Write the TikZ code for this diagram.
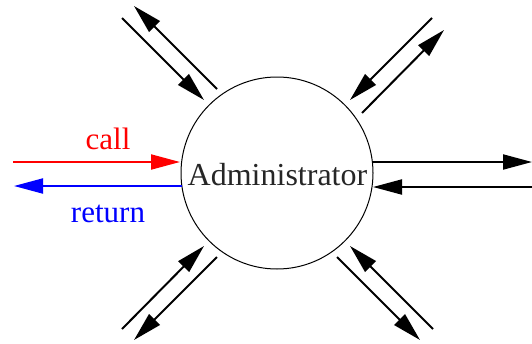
\documentclass[tikz,border=0pt]{standalone}
\usepackage{fontspec}
\setmainfont{Liberation Serif}
\usetikzlibrary{arrows.meta}
\tikzset{
  msg/.style={line width=2pt, -{Triangle[length=29pt, width=15pt]}},
  lbl/.style={anchor=base, inner sep=0pt, font=\fontsize{31}{36}\selectfont}
}

\begin{document}
\begin{tikzpicture}[x=1pt, y=-1pt]
  \useasboundingbox (0,0) rectangle (532,343);
  \node[circle, draw, line width=1pt, minimum size=192pt, inner sep=0pt] (admin) at (277,173) {};
  \node[lbl, font=\fontsize{32}{36}\selectfont, text=black!85] (name) at (277.5,185) {Administrator};
  % left: call / return
  \coordinate (callin) at (13,162);
  \coordinate (callout) at (180,162);
  \coordinate (retin) at (182,186);
  \coordinate (retout) at (14,186);
  \draw[msg, red] (callin) -- (callout);
  \draw[msg, blue] (retin) -- (retout);
  \node[lbl, red] (calltxt) at (108,149) {call};
  \node[lbl, blue] (rettxt) at (108,222) {return};
  % right
  \coordinate (r1a) at (373,162);
  \coordinate (r1b) at (532,162);
  \coordinate (r2a) at (532,187);
  \coordinate (r2b) at (373,187);
  \draw[msg] (r1a) -- (r1b);
  \draw[msg] (r2a) -- (r2b);
  % top left
  \coordinate (tl1a) at (122,18);
  \coordinate (tl1b) at (204,100);
  \coordinate (tl2a) at (217,89);
  \coordinate (tl2b) at (134,6);
  \draw[msg] (tl1a) -- (tl1b);
  \draw[msg] (tl2a) -- (tl2b);
  % top right
  \coordinate (tr1a) at (432,18);
  \coordinate (tr1b) at (350,100);
  \coordinate (tr2a) at (362,113);
  \coordinate (tr2b) at (444,30);
  \draw[msg] (tr1a) -- (tr1b);
  \draw[msg] (tr2a) -- (tr2b);
  % bottom left
  \coordinate (bl1a) at (122,329);
  \coordinate (bl1b) at (204,246);
  \coordinate (bl2a) at (217,257);
  \coordinate (bl2b) at (134,340);
  \draw[msg] (bl1a) -- (bl1b);
  \draw[msg] (bl2a) -- (bl2b);
  % bottom right
  \coordinate (br1a) at (337,257);
  \coordinate (br1b) at (420,340);
  \coordinate (br2a) at (433,329);
  \coordinate (br2b) at (350,246);
  \draw[msg] (br1a) -- (br1b);
  \draw[msg] (br2a) -- (br2b);
\end{tikzpicture}
\end{document}
